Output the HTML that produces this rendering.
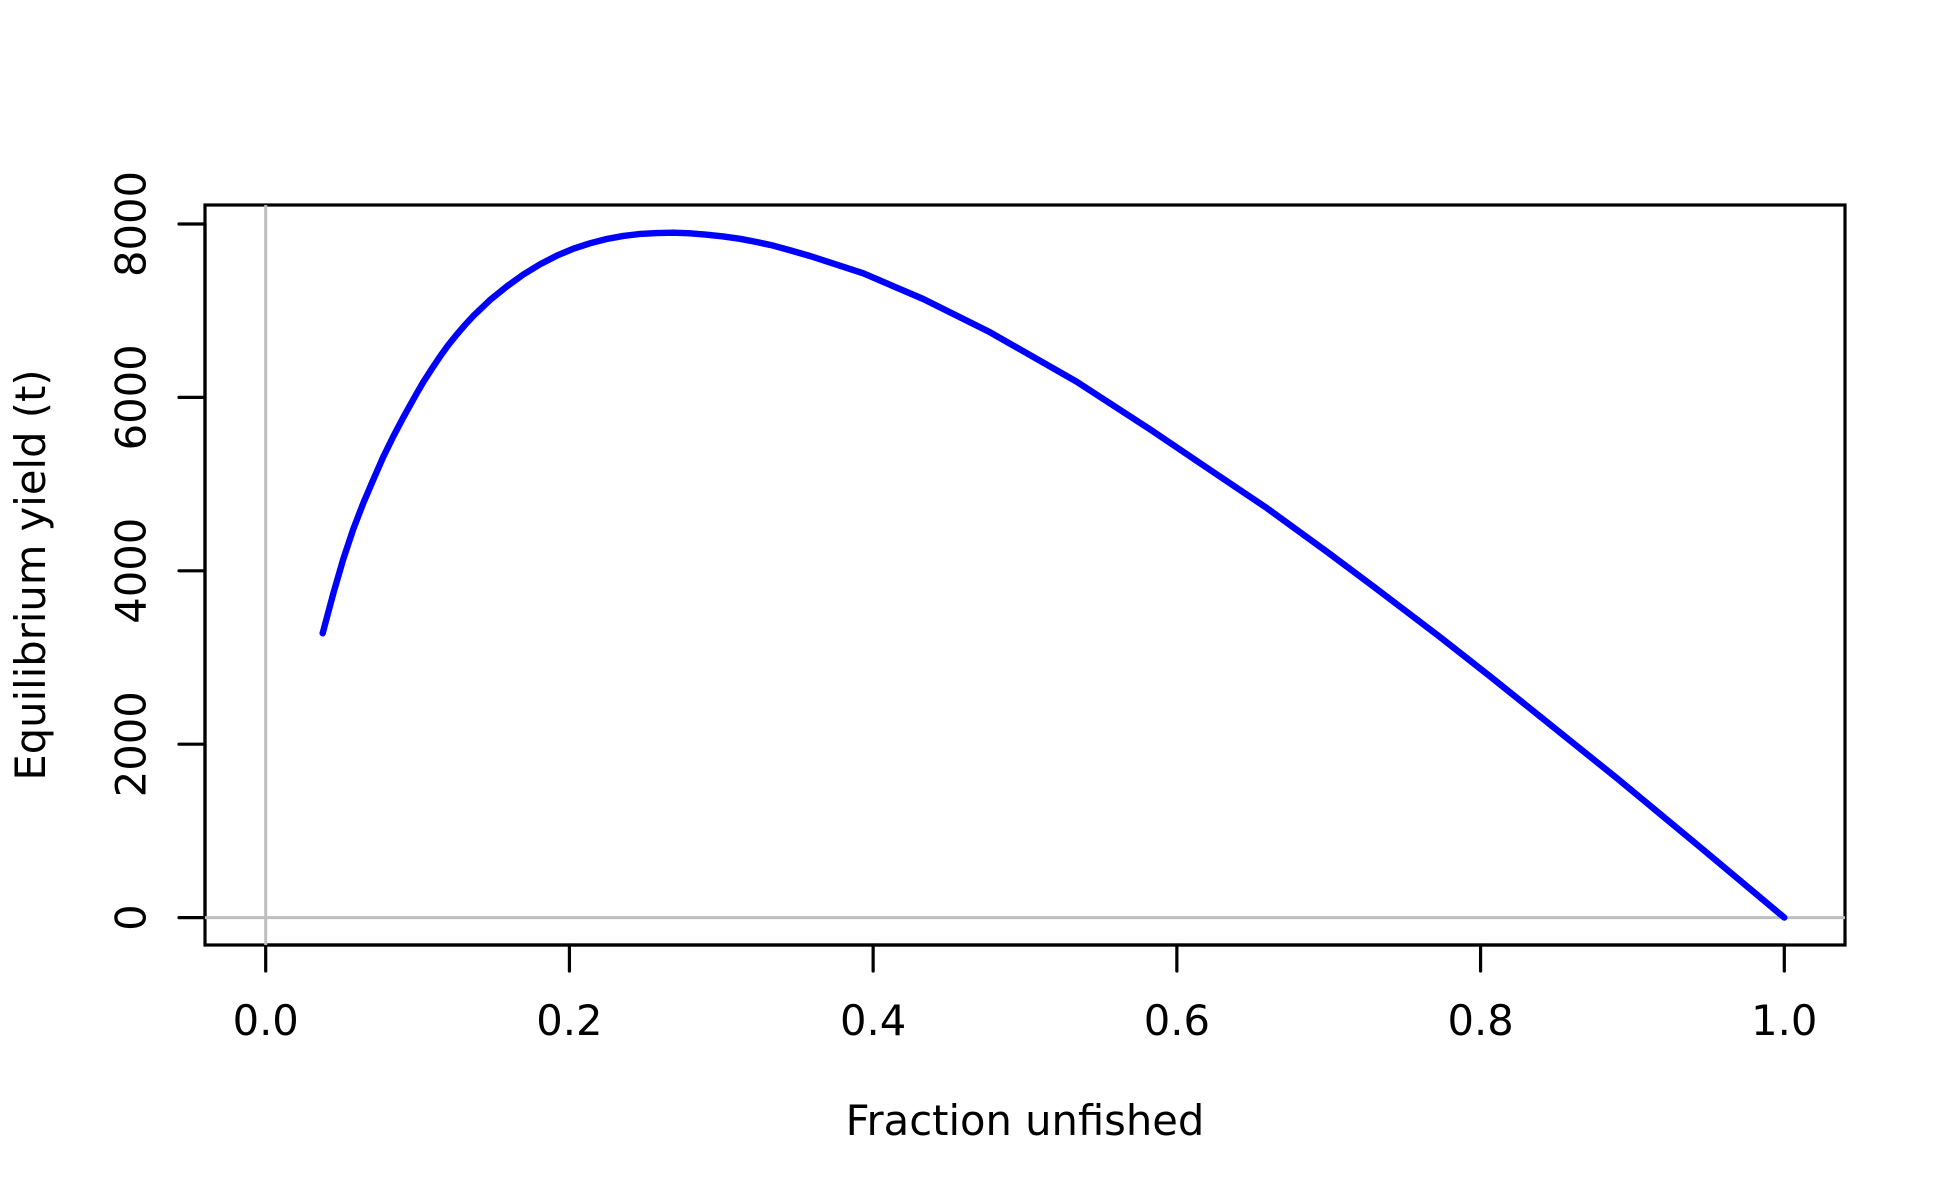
<!DOCTYPE html>
<html>
<head>
<meta charset="utf-8">
<title>Equilibrium yield curve</title>
<style>
html,body{margin:0;padding:0;background:#fff;}
svg{display:block;}
text{font-family:"DejaVu Sans","Liberation Sans",sans-serif;font-size:41.67px;fill:#000;}
</style>
</head>
<body>
<svg id="chart" xmlns="http://www.w3.org/2000/svg" width="1950" height="1200" viewBox="0 0 1950 1200">
<defs><clipPath id="plot-clip"><rect x="205" y="205" width="1640" height="740"></rect></clipPath></defs>
<rect x="0" y="0" width="1950" height="1200" fill="#fff"></rect>
<rect x="205" y="205" width="1640" height="740" fill="none" stroke="#000" stroke-width="3.2"></rect>
<g id="x-axis"></g>
<g id="y-axis"></g>
<g id="reference-lines" clip-path="url(#plot-clip)"></g>
<g id="series" clip-path="url(#plot-clip)"></g>
<text x="1025" y="1135" text-anchor="middle">Fraction unfished</text>
<text transform="translate(45,575) rotate(-90)" text-anchor="middle">Equilibrium yield (t)</text>
</svg>
<script>
const xTickValues = [0, 0.2, 0.4, 0.6, 0.8, 1.0];
const xTickLabels = ["0.0", "0.2", "0.4", "0.6", "0.8", "1.0"];
const yTickValues = [0, 2000, 4000, 6000, 8000];
const yTickLabels = ["0", "2000", "4000", "6000", "8000"];
const fractionUnfished = [0.0375,0.0445,0.0511,0.0577,0.0643,0.0709,0.0774,0.0840,0.0906,0.0950,0.0994,0.1038,0.1093,0.1148,0.1200,0.1258,0.1312,0.1367,0.1477,0.1587,0.1696,0.1806,0.1916,0.2026,0.2135,0.2245,0.2355,0.2465,0.2575,0.2684,0.2794,0.2904,0.3013,0.3123,0.3233,0.3343,0.3452,0.3584,0.3935,0.4330,0.4770,0.5340,0.5822,0.6205,0.6592,0.6987,0.7293,0.7733,0.8062,0.8347,0.8896,0.9445,1.0];
const equilibriumYield = [3279,3738,4136,4482,4782,5053,5313,5549,5768,5907,6045,6178,6328,6472,6599,6725,6835,6939,7123,7279,7417,7535,7634,7715,7777,7827,7862,7885,7896,7900,7893,7877,7856,7829,7792,7750,7697,7631,7431,7135,6751,6181,5633,5180,4724,4221,3821,3236,2783,2383,1610,814,0];

const SVG_NS = "http://www.w3.org/2000/svg";
function xScale(v) { return 265.7 + 1518.6 * v; }
function yScale(v) { return 917.6 - 0.0867 * v; }
function makeLine(x1, y1, x2, y2, color, width) {
  const l = document.createElementNS(SVG_NS, "line");
  l.setAttribute("x1", x1);
  l.setAttribute("y1", y1);
  l.setAttribute("x2", x2);
  l.setAttribute("y2", y2);
  l.setAttribute("stroke", color);
  l.setAttribute("stroke-width", width);
  l.setAttribute("stroke-linecap", "round");
  return l;
}
const xAxisGroup = document.getElementById("x-axis");
const yAxisGroup = document.getElementById("y-axis");
const refGroup = document.getElementById("reference-lines");
const seriesGroup = document.getElementById("series");

const xAxisLine = makeLine(xScale(xTickValues[0]), 945, xScale(xTickValues[xTickValues.length - 1]), 945, "#000", 3.2);


xAxisGroup.appendChild(xAxisLine);
xTickValues.forEach(function (v, i) {
  const tick = makeLine(xScale(v), 945, xScale(v), 971, "#000", 3.2);
  
  
  xAxisGroup.appendChild(tick);
  const label = document.createElementNS(SVG_NS, "text");
  
  
  label.setAttribute("x", xScale(v));
  label.setAttribute("y", 1035);
  label.setAttribute("text-anchor", "middle");
  label.textContent = xTickLabels[i];
  xAxisGroup.appendChild(label);
});

const yAxisLine = makeLine(205, yScale(yTickValues[0]), 205, yScale(yTickValues[yTickValues.length - 1]), "#000", 3.2);


yAxisGroup.appendChild(yAxisLine);
yTickValues.forEach(function (v, i) {
  const tick = makeLine(179, yScale(v), 205, yScale(v), "#000", 3.2);
  
  
  yAxisGroup.appendChild(tick);
  const label = document.createElementNS(SVG_NS, "text");
  
  
  label.setAttribute("transform", "translate(145.7," + yScale(v) + ") rotate(-90)");
  label.setAttribute("text-anchor", "middle");
  label.textContent = yTickLabels[i];
  yAxisGroup.appendChild(label);
});

const zeroYieldLine = makeLine(205, yScale(0), 1845, yScale(0), "#bebebe", 3);


refGroup.appendChild(zeroYieldLine);
const zeroFractionLine = makeLine(xScale(0), 205, xScale(0), 945, "#bebebe", 3);


refGroup.appendChild(zeroFractionLine);

const yieldCurve = document.createElementNS(SVG_NS, "polyline");


yieldCurve.setAttribute("points", fractionUnfished.map(function (f, i) {
  return xScale(f).toFixed(2) + "," + yScale(equilibriumYield[i]).toFixed(2);
}).join(" "));
yieldCurve.setAttribute("fill", "none");
yieldCurve.setAttribute("stroke", "#0000ff");
yieldCurve.setAttribute("stroke-width", "6.4");
yieldCurve.setAttribute("stroke-linecap", "round");
yieldCurve.setAttribute("stroke-linejoin", "round");
seriesGroup.appendChild(yieldCurve);
</script>
</body>
</html>
